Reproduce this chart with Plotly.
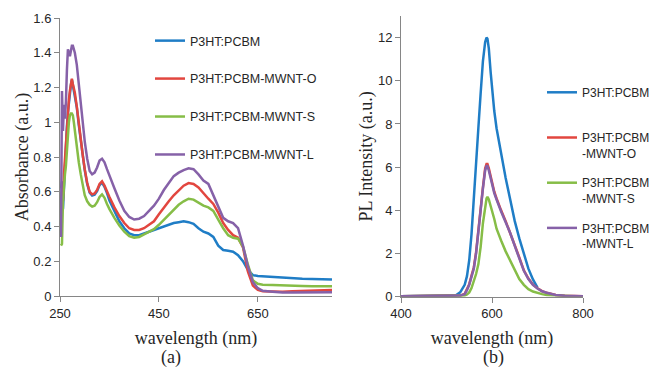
import plotly.graph_objects as go

# ---------------- Panel (a): absorbance ----------------
wl_a = [252, 254, 256, 258, 260, 262, 264, 266, 268, 270, 272, 274, 276, 278, 280,
        284, 288, 292, 296, 300, 305, 310, 315, 320, 325, 330, 335, 340, 345, 350,
        360, 370, 380, 390, 400, 410, 420, 430, 440, 450, 460, 470, 480, 490, 500,
        510, 520, 530, 540, 550, 560, 570, 580, 590, 600, 610, 620, 630, 640, 650,
        660, 680, 700, 720, 740, 760, 780, 800]

abs_pcbm = [0.62, 0.66, 0.50, 0.64, 0.79, 0.89, 0.975, 1.055, 1.125, 1.175, 1.215, 1.245, 1.215, 1.195, 1.165,
            1.085, 0.985, 0.895, 0.805, 0.725, 0.645, 0.595, 0.578, 0.583, 0.603, 0.638, 0.652, 0.628, 0.592, 0.55,
            0.49, 0.43, 0.39, 0.36, 0.35, 0.35, 0.36, 0.37, 0.38, 0.39, 0.40, 0.41, 0.42, 0.425, 0.43,
            0.425, 0.415, 0.39, 0.37, 0.36, 0.34, 0.29, 0.265, 0.26, 0.255, 0.235, 0.20, 0.15, 0.12, 0.115,
            0.113, 0.108, 0.105, 0.102, 0.100, 0.098, 0.096, 0.095]

abs_o = [0.50, 0.52, 0.55, 0.70, 0.80, 0.90, 0.98, 1.06, 1.13, 1.18, 1.22, 1.25, 1.22, 1.20, 1.17,
         1.09, 0.99, 0.90, 0.81, 0.73, 0.65, 0.60, 0.585, 0.59, 0.61, 0.645, 0.66, 0.635, 0.60, 0.57,
         0.51, 0.46, 0.42, 0.39, 0.38, 0.38, 0.39, 0.41, 0.43, 0.47, 0.51, 0.545, 0.58, 0.61, 0.635,
         0.65, 0.645, 0.625, 0.59, 0.56, 0.53, 0.48, 0.42, 0.38, 0.35, 0.335, 0.28, 0.14, 0.06, 0.035,
         0.028, 0.025, 0.025, 0.027, 0.028, 0.030, 0.032, 0.035]

abs_s = [0.29, 0.30, 0.55, 0.65, 0.70, 0.75, 0.85, 0.95, 1.00, 1.04, 1.05, 1.05, 1.04, 1.00, 0.95,
         0.86, 0.77, 0.70, 0.63, 0.58, 0.545, 0.525, 0.515, 0.52, 0.54, 0.57, 0.585, 0.565, 0.53, 0.50,
         0.45, 0.405, 0.37, 0.345, 0.335, 0.34, 0.355, 0.37, 0.385, 0.41, 0.44, 0.47, 0.50, 0.525, 0.545,
         0.56, 0.555, 0.535, 0.52, 0.51, 0.49, 0.44, 0.39, 0.35, 0.335, 0.33, 0.285, 0.18, 0.09, 0.07,
         0.065, 0.063, 0.060, 0.058, 0.057, 0.056, 0.056, 0.056]

abs_l = [0.34, 1.18, 0.95, 1.10, 1.02, 1.12, 1.30, 1.42, 1.40, 1.38, 1.41, 1.44, 1.44, 1.42, 1.40,
         1.33, 1.22, 1.10, 0.98, 0.89, 0.79, 0.72, 0.70, 0.71, 0.74, 0.78, 0.79, 0.77, 0.73, 0.69,
         0.62, 0.55, 0.49, 0.455, 0.44, 0.445, 0.46, 0.49, 0.52, 0.56, 0.61, 0.65, 0.69, 0.71, 0.725,
         0.735, 0.73, 0.70, 0.665, 0.645, 0.58, 0.51, 0.45, 0.43, 0.42, 0.39, 0.29, 0.17, 0.08, 0.045,
         0.030, 0.025, 0.020, 0.020, 0.020, 0.022, 0.022, 0.022]

# ---------------- Panel (b): photoluminescence ----------------
wl_b = [400, 450, 500, 520, 530, 540, 545, 550, 555, 560, 565, 570, 575, 580, 585, 588, 590,
        593, 597, 600, 605, 610, 615, 620, 630, 640, 650, 660, 670, 680, 690, 700, 710, 720,
        740, 760, 780, 800]

pl_pcbm = [0.02, 0.02, 0.03, 0.05, 0.20, 0.55, 0.95, 1.70, 2.90, 4.40, 6.10, 7.80, 9.40, 10.9, 11.8, 12.0, 11.95,
           11.5, 10.4, 9.6, 8.6, 7.8, 7.2, 6.65, 5.5, 4.5, 3.5, 2.7, 1.95, 1.30, 0.80, 0.42, None, None,
           None, None, None, None]

pl_o = [0.02, 0.02, 0.02, 0.03, 0.05, 0.13, 0.32, 0.58, 0.98, 1.35, 2.05, 2.95, 4.05, 5.05, 5.95, 6.15, 6.15,
        5.95, 5.55, 5.28, 4.86, 4.55, 4.25, 4.00, 3.50, 2.98, 2.38, 1.82, 1.22, 0.84, 0.56, 0.39, 0.26, 0.18,
        0.08, 0.04, 0.03, 0.02]

pl_s = [0.02, 0.02, 0.02, 0.02, 0.03, 0.05, 0.10, 0.20, 0.40, 0.70, 1.05, 1.50, 2.30, 3.40, 4.20, 4.55, 4.62,
        4.50, 4.20, 4.00, 3.60, 3.15, 2.85, 2.60, 2.10, 1.68, 1.22, 0.82, 0.55, 0.35, 0.24, 0.17, 0.12, 0.08,
        0.05, 0.03, 0.02, 0.02]

pl_l = [0.02, 0.02, 0.02, 0.03, 0.05, 0.12, 0.30, 0.55, 0.95, 1.30, 2.00, 2.90, 4.00, 5.00, 5.85, 6.05, 6.05,
        5.85, 5.45, 5.20, 4.80, 4.50, 4.20, 3.95, 3.45, 2.95, 2.35, 1.80, 1.20, 0.82, 0.55, 0.38, 0.25, 0.18,
        0.08, 0.04, 0.03, 0.02]

names_a = ["P3HT:PCBM", "P3HT:PCBM-MWNT-O", "P3HT:PCBM-MWNT-S", "P3HT:PCBM-MWNT-L"]
names_b = ["P3HT:PCBM<br>\u00a0", "P3HT:PCBM<br>-MWNT-O", "P3HT:PCBM<br>-MWNT-S", "P3HT:PCBM<br>-MWNT-L"]
colors = ["#1f7dc6", "#e2463f", "#86bd47", "#8661a8"]

W, H = 654, 370
fig = go.Figure()

for nm, ys, c in zip(names_a, [abs_pcbm, abs_o, abs_s, abs_l], colors):
    fig.add_trace(go.Scatter(x=wl_a, y=ys, name=nm, mode="lines",
                             line=dict(color=c, width=2.5),
                             xaxis="x", yaxis="y", legend="legend", legendgroup="a" + nm))

for nm, ys, c in zip(names_b, [pl_pcbm, pl_o, pl_s, pl_l], colors):
    fig.add_trace(go.Scatter(x=wl_b, y=ys, name=nm, mode="lines",
                             line=dict(color=c, width=2.5),
                             xaxis="x2", yaxis="y2", legend="legend2", legendgroup="b" + nm))

axis_common = dict(showline=True, linecolor="#868686", linewidth=1, ticks="outside",
                   ticklen=5, tickcolor="#868686", showgrid=False, zeroline=False,
                   tickfont=dict(family="Liberation Sans", size=13, color="#262626"),
                   automargin=False)
title_font = dict(family="Liberation Serif", size=18, color="#262626")

fig.update_layout(
    width=W, height=H,
    margin=dict(l=0, r=0, t=0, b=0, autoexpand=False),
    paper_bgcolor="white", plot_bgcolor="white",
    showlegend=True,
    xaxis=dict(domain=[60 / W, 332 / W], range=[250, 800], tickvals=[250, 450, 650],
               title=dict(text="wavelength (nm)", font=title_font, standoff=11),
               anchor="y", **axis_common),
    yaxis=dict(domain=[(H - 296) / H, (H - 18) / H], range=[0, 1.6],
               tickvals=[0, 0.2, 0.4, 0.6, 0.8, 1.0, 1.2, 1.4, 1.6],
               ticktext=["0", "0.2", "0.4", "0.6", "0.8", "1", "1.2", "1.4", "1.6"],
               title=dict(text="Absorbance (a.u.)", font=title_font, standoff=0),
               anchor="x", **axis_common),
    xaxis2=dict(domain=[401 / W, 583 / W], range=[400, 800], tickvals=[400, 600, 800],
                title=dict(text="wavelength (nm)", font=title_font, standoff=11),
                anchor="y2", **axis_common),
    yaxis2=dict(domain=[(H - 296.7) / H, (H - 16) / H], range=[0, 13],
                tickvals=[0, 2, 4, 6, 8, 10, 12],
                title=dict(text="PL Intensity (a.u.)", font=title_font, standoff=0),
                anchor="x2", **axis_common),
    legend=dict(x=150 / W, xanchor="left", y=1 - 26 / H, yanchor="top",
                font=dict(family="Liberation Sans", size=12.5, color="#262626"),
                tracegroupgap=18.7, bgcolor="rgba(0,0,0,0)", itemwidth=30,
                traceorder="grouped"),
    legend2=dict(x=542 / W, xanchor="left", y=1 - 78 / H, yanchor="top",
                 font=dict(family="Liberation Sans", size=12, color="#262626"),
                 tracegroupgap=11, bgcolor="rgba(0,0,0,0)", itemwidth=30,
                 valign="top", traceorder="grouped"),
    annotations=[
        dict(text="(a)", x=171 / W, y=1 - 357 / H, xref="paper", yref="paper",
             showarrow=False, font=title_font, xanchor="center", yanchor="middle"),
        dict(text="(b)", x=493 / W, y=1 - 357 / H, xref="paper", yref="paper",
             showarrow=False, font=title_font, xanchor="center", yanchor="middle"),
    ],
)

fig.write_html("out.html", config={"displayModeBar": False},
               post_script="document.body.style.margin='0';")
